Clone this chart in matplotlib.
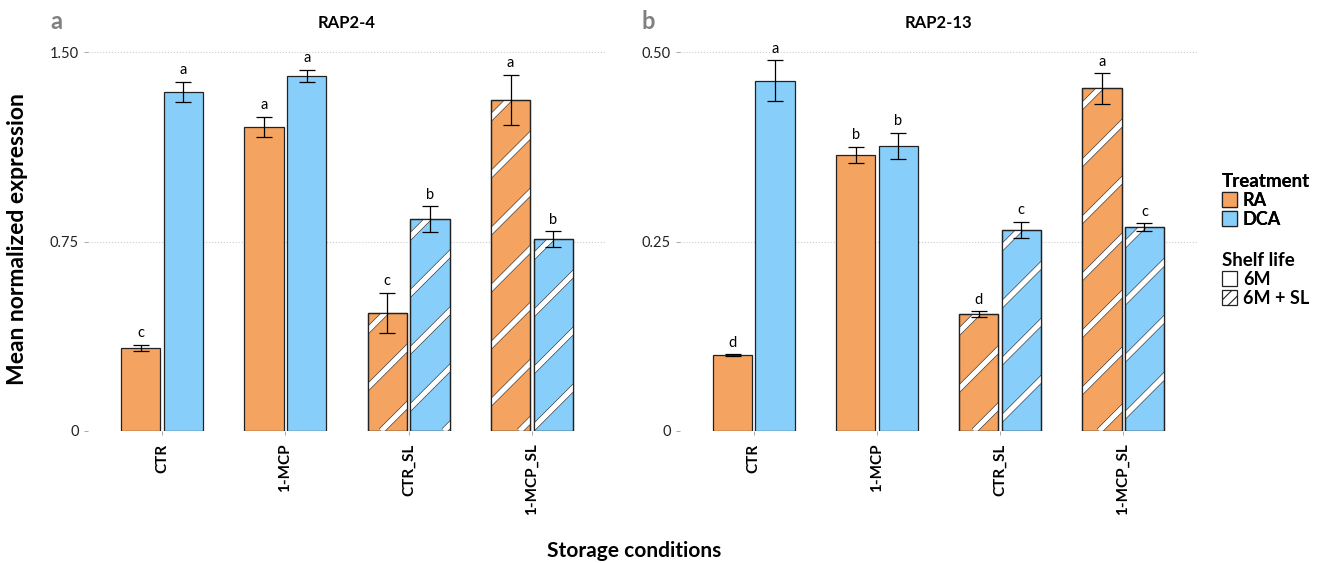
import numpy as np
import matplotlib
matplotlib.use('Agg')
import matplotlib.pyplot as plt
from matplotlib.patches import Patch
from matplotlib.lines import Line2D

plt.rcParams['font.family'] = ['Lato', 'DejaVu Sans']

# Datos
categorias = ['CTR', '1-MCP', 'CTR_SL', '1-MCP_SL']
hatched = [False, False, True, True]

rap24_ra = [0.328, 1.203, 0.467, 1.310]
rap24_ra_err = [0.012, 0.040, 0.080, 0.100]
rap24_dca = [1.341, 1.405, 0.839, 0.760]
rap24_dca_err = [0.040, 0.024, 0.050, 0.030]
rap24_ra_let = ['c', 'a', 'c', 'a']
rap24_dca_let = ['a', 'a', 'b', 'b']

rap213_ra = [0.100, 0.364, 0.154, 0.452]
rap213_ra_err = [0.001, 0.011, 0.004, 0.020]
rap213_dca = [0.462, 0.376, 0.265, 0.269]
rap213_dca_err = [0.027, 0.017, 0.011, 0.005]
rap213_ra_let = ['d', 'b', 'd', 'a']
rap213_dca_let = ['a', 'b', 'c', 'c']

c_ra = '#F4A460'
c_dca = '#87CEFA'

fig = plt.figure(figsize=(13.24, 5.63), dpi=100)


def stripes(ax, bar):
    # rayas blancas diagonales dentro de la barra
    x0, y0 = bar.get_x(), bar.get_y()
    w, h = bar.get_width(), bar.get_height()
    xl, yl = ax.get_xlim(), ax.get_ylim()
    px_x = ax.bbox.width / (xl[1] - xl[0])
    px_y = ax.bbox.height / (yl[1] - yl[0])
    period = 57 / px_x
    k = px_x / px_y
    span = h / k + w
    starts = np.arange(-span - period, w + period, period)
    for s in starts:
        xs = np.array([x0 + s, x0 + s + span + period])
        ys = y0 + (xs - (x0 + s)) * k
        for col, lw in (('#333333', 4.6), ('white', 3.7)):
            ln = Line2D(xs, ys, color=col, lw=lw, solid_capstyle='butt', zorder=2.5)
            ax.add_line(ln)
            ln.set_clip_path(bar)


def panel(rect, titulo, letra, ra, ra_err, dca, dca_err, ra_let, dca_let, ymax, ticks, ticklabels):
    ax = fig.add_axes(rect)
    x = np.arange(len(categorias))
    off, w = 0.173, 0.32
    ax.set_xlim(-0.6, 3.6)
    ax.set_ylim(0, ymax)
    b1 = ax.bar(x - off, ra, w, color=c_ra, edgecolor='#222222', lw=0.9, zorder=2)
    b2 = ax.bar(x + off, dca, w, color=c_dca, edgecolor='#222222', lw=0.9, zorder=2)
    for bars in (b1, b2):
        for bar, hh in zip(bars, hatched):
            if hh:
                stripes(ax, bar)
                # borde encima de las rayas
                ax.add_patch(plt.Rectangle((bar.get_x(), 0), bar.get_width(), bar.get_height(),
                                           fill=False, edgecolor='#222222', lw=0.9, zorder=2.8))
    ax.errorbar(x - off, ra, yerr=ra_err, fmt='none', ecolor='black', elinewidth=0.9, capsize=6, capthick=0.9, zorder=3)
    ax.errorbar(x + off, dca, yerr=dca_err, fmt='none', ecolor='black', elinewidth=0.9, capsize=6, capthick=0.9, zorder=3)
    pad = ymax * 0.012
    for xi, v, e, l in zip(x - off, ra, ra_err, ra_let):
        ax.text(xi, v + e + pad, l, ha='center', va='bottom', fontsize=10.5)
    for xi, v, e, l in zip(x + off, dca, dca_err, dca_let):
        ax.text(xi, v + e + pad, l, ha='center', va='bottom', fontsize=10.5)
    ax.set_yticks(ticks)
    ax.set_yticklabels(ticklabels, fontsize=10.5, color='#222222')
    ax.set_xticks(x)
    ax.set_xticklabels(categorias, rotation=90, fontsize=11, fontweight='bold', va='top')
    ax.tick_params(axis='both', length=3, color='#999999', width=0.6)
    ax.tick_params(axis='x', pad=6)
    ax.grid(axis='y', color='#cccccc', ls=':', lw=0.8, zorder=0)
    for s in ax.spines.values():
        s.set_visible(False)
    cx = rect[0] + rect[2] / 2
    fig.text(cx, 0.959, titulo, fontsize=12, fontweight='bold', ha='center', va='center')
    fig.text(rect[0] - 0.024, 0.962, letra, fontsize=17, fontweight='bold', color='#808080', ha='center', va='center')
    return ax


panel([0.0665, 0.2345, 0.3912, 0.70], 'RAP2-4', 'a', rap24_ra, rap24_ra_err, rap24_dca, rap24_dca_err,
      rap24_ra_let, rap24_dca_let, 1.56, [0, 0.75, 1.5], ['0', '0.75', '1.50'])
panel([0.5136, 0.2345, 0.3905, 0.70], 'RAP2-13', 'b', rap213_ra, rap213_ra_err, rap213_dca, rap213_dca_err,
      rap213_ra_let, rap213_dca_let, 0.52, [0, 0.25, 0.5], ['0', '0.25', '0.50'])

fig.text(0.0135, 0.575, 'Mean normalized expression', rotation=90, fontsize=16.5, fontweight='bold', ha='center', va='center')
fig.text(0.479, 0.022, 'Storage conditions', fontsize=15, fontweight='bold', ha='center', va='center')

h1 = [Patch(facecolor=c_ra, edgecolor='#222222', lw=0.9), Patch(facecolor=c_dca, edgecolor='#222222', lw=0.9)]
leg1 = fig.legend(h1, ['RA', 'DCA'], title='Treatment', loc='upper left', bbox_to_anchor=(0.923, 0.693),
                  frameon=False, prop={'weight': 'bold', 'size': 13}, title_fontproperties={'weight': 'bold', 'size': 13.5},
                  alignment='left', handlelength=0.85, handleheight=0.9, handletextpad=0.3, labelspacing=0.12,
                  borderpad=0, borderaxespad=0)
plt.rcParams['hatch.linewidth'] = 0.8
h2 = [Patch(facecolor='white', edgecolor='#222222', lw=0.9), Patch(facecolor='white', edgecolor='#222222', lw=0.9, hatch='///')]
leg2 = fig.legend(h2, ['6M', '6M + SL'], title='Shelf life', loc='upper left', bbox_to_anchor=(0.923, 0.553),
                  frameon=False, prop={'weight': 'bold', 'size': 13}, title_fontproperties={'weight': 'bold', 'size': 13.5},
                  alignment='left', handlelength=0.85, handleheight=0.9, handletextpad=0.3, labelspacing=0.12,
                  borderpad=0, borderaxespad=0)
fig.add_artist(leg1)

fig.savefig('out.png', dpi=100)
